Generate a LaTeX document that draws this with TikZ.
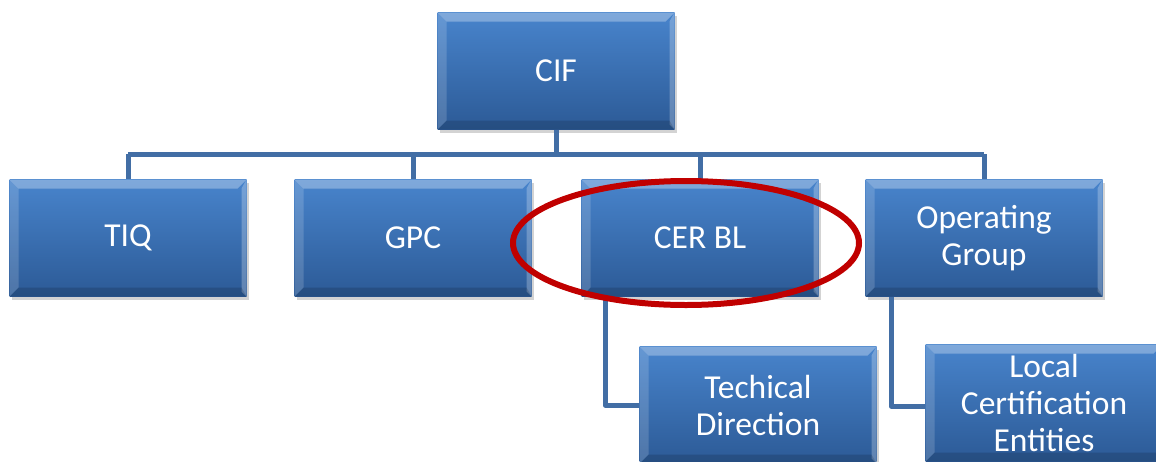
\documentclass[tikz,border=0pt]{standalone}
\usepackage{fontspec}
\setmainfont{Carlito}
\usepackage{tikz}
\usetikzlibrary{shadows}

\definecolor{boxtop}{RGB}{72,132,204}
\definecolor{boxbot}{RGB}{44,90,150}
\definecolor{linkblue}{RGB}{66,110,165}
\definecolor{markred}{RGB}{192,0,0}

\tikzset{
  orgbox/.style={minimum width=237pt,minimum height=117pt,inner sep=0pt,
    text=white,align=center,font=\fontsize{33.5}{37}\selectfont,
    top color=boxtop,bottom color=boxbot,
    drop shadow={shadow xshift=2pt,shadow yshift=-3pt,opacity=0.35},
    path picture={
      \coordinate (nw) at (path picture bounding box.north west);
      \coordinate (ne) at (path picture bounding box.north east);
      \coordinate (sw) at (path picture bounding box.south west);
      \coordinate (se) at (path picture bounding box.south east);
      \fill[white,opacity=0.3] (nw) -- (ne) -- ([xshift=-9pt,yshift=-9pt]ne) -- ([xshift=9pt,yshift=-9pt]nw) -- cycle;
      \fill[white,opacity=0.16] (nw) -- (sw) -- ([xshift=9pt,yshift=9pt]sw) -- ([xshift=9pt,yshift=-9pt]nw) -- cycle;
      \fill[white,opacity=0.25] (ne) -- (se) -- ([xshift=-5pt,yshift=5pt]se) -- ([xshift=-5pt,yshift=-9pt]ne) -- cycle;
      \fill[black,opacity=0.14] (sw) -- (se) -- ([xshift=-5pt,yshift=9pt]se) -- ([xshift=9pt,yshift=9pt]sw) -- cycle;
    }},
  link/.style={draw=linkblue,line width=5pt},
  hilite/.style={draw=markred,line width=6pt}
}

\begin{document}
\begin{tikzpicture}[x=1pt,y=-1pt]
\useasboundingbox (0,0) rectangle (1156,461);
\clip (0,0) rectangle (1156,461);

% boxes
\node[orgbox] (cif) at (556,71) {CIF};
\node[orgbox] (tiq) at (128,238) {TIQ};
\node[orgbox] (gpc) at (413,238) {GPC};
\node[orgbox] (cer) at (700,238) {CER BL};
\node[orgbox] (og) at (984,238) {Operating\\Group};
\node[orgbox] (td) at (758,405) {Techical\\Direction};
\node[orgbox] (lce) at (1044,403) {Local\\Certification\\Entities};

% connectors
\coordinate (bus) at (556,154);
\draw[link] (cif.south) -- (cif.south |- bus);
\draw[link] (bus -| tiq.north) -- (bus -| og.north);
\foreach \n in {tiq,gpc,cer,og}
  \draw[link] (bus -| \n.north) -- (\n.north);
\draw[link,line join=round] ([xshift=-95pt]cer.south) |- (td.west);
\draw[link,line join=round] ([xshift=-93pt]og.south) |- ([yshift=-3pt]lce.west);

% highlight
\draw[hilite] (686,243) ellipse [x radius=173,y radius=62];
\end{tikzpicture}
\end{document}
